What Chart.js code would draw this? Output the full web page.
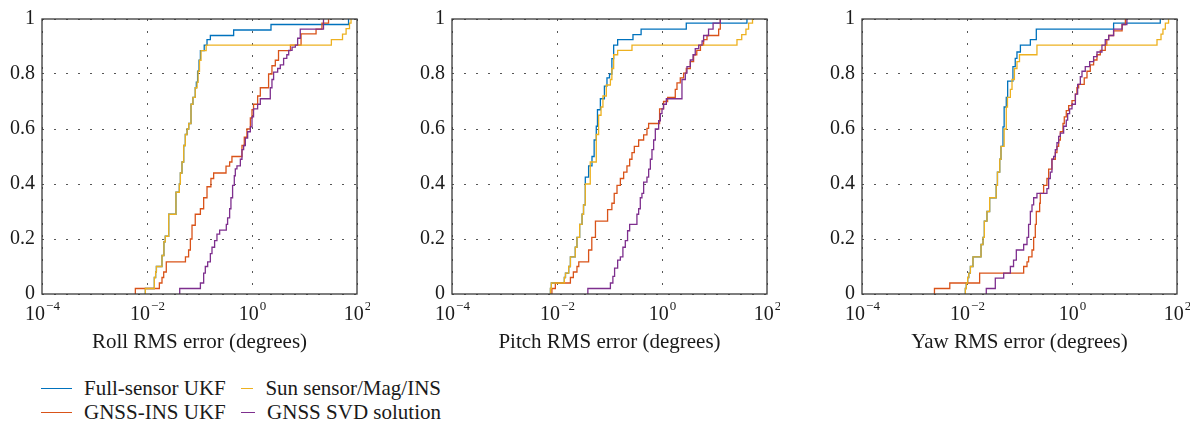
<!DOCTYPE html>
<html>
<head>
<meta charset="utf-8">
<script src="https://cdn.jsdelivr.net/npm/chart.js@4.4.1/dist/chart.umd.min.js"></script>
<style>
  body { margin: 0; background: #fff; width: 1201px; height: 424px; position: relative; overflow: hidden;
         font-family: "Liberation Serif", serif; color: #1a1a1a; }
  .panel { position: absolute; top: 0; width: 370px; height: 360px; }
  #legend { position: absolute; left: 41px; top: 376px; display: grid;
            grid-template-rows: 24px 24px; grid-auto-flow: column; grid-auto-columns: 200px; font-size: 21px; }
  .item { display: flex; align-items: center; white-space: nowrap; }
  .swatch { width: 31px; height: 0; border-top: 1.5px solid; margin-right: 12px; }
</style>
</head>
<body>
<div class="panel" style="left:0px"><canvas id="roll" width="370" height="360"></canvas></div>
<div class="panel" style="left:410px"><canvas id="pitch" width="370" height="360"></canvas></div>
<div class="panel" style="left:820px"><canvas id="yaw" width="370" height="360"></canvas></div>
<div id="legend"></div>

<script>
// Series (legend order, column-major like the figure)
const seriesNames = ['Full-sensor UKF', 'GNSS-INS UKF', 'Sun sensor/Mag/INS', 'GNSS SVD solution'];
const seriesColors = ['#0072BD', '#D95319', '#EDB120', '#7E2F8E'];
const drawOrder = [4, 3, 2, 1];

// axis ticks
const xTickValues = [1e-4, 1e-2, 1, 1e2];
const xTickExponents = ['\u22124', '\u22122', '0', '2'];
const yTickValues = [0, 0.2, 0.4, 0.6, 0.8, 1];
const yTickLabels = ['0', '0.2', '0.4', '0.6', '0.8', '1'];
const panelTitles = ['Roll RMS error (degrees)', 'Pitch RMS error (degrees)', 'Yaw RMS error (degrees)'];

// empirical CDF steps: [error (deg), cumulative fraction]
const rollFull = [[0.0093,0.02],[0.0138,0.06],[0.0146,0.08],[0.0151,0.10],[0.0193,0.14],[0.021,0.19],[0.0223,0.21],[0.0259,0.29],[0.0356,0.37],[0.0413,0.40],[0.0432,0.44],[0.0464,0.48],[0.05,0.54],[0.0537,0.58],[0.058,0.60],[0.0624,0.62],[0.0689,0.69],[0.075,0.715],[0.083,0.75],[0.087,0.77],[0.092,0.81],[0.098,0.85],[0.104,0.885],[0.123,0.905],[0.139,0.925],[0.161,0.94],[0.447,0.96],[2.3,0.98],[69,1.0]];
const rollGnss = [[0.006,0.02],[0.0172,0.04],[0.0193,0.06],[0.0208,0.08],[0.0233,0.117],[0.054,0.135],[0.062,0.16],[0.067,0.20],[0.072,0.25],[0.083,0.29],[0.104,0.31],[0.12,0.35],[0.139,0.39],[0.165,0.42],[0.186,0.44],[0.32,0.465],[0.375,0.48],[0.415,0.50],[0.644,0.54],[0.713,0.57],[0.80,0.60],[0.93,0.64],[1.0,0.67],[1.07,0.69],[1.28,0.72],[1.44,0.75],[2.07,0.80],[2.4,0.83],[2.78,0.85],[3.2,0.885],[5.4,0.905],[8.6,0.946],[16.6,0.963],[21.5,0.985],[28.7,1.0]];
const rollSun = [[0.0093,0.02],[0.0138,0.06],[0.0146,0.08],[0.0151,0.10],[0.0193,0.14],[0.021,0.19],[0.0223,0.21],[0.0259,0.29],[0.0356,0.37],[0.0413,0.40],[0.0432,0.44],[0.0464,0.48],[0.05,0.54],[0.0537,0.58],[0.058,0.60],[0.0624,0.62],[0.0689,0.69],[0.075,0.715],[0.083,0.75],[0.09,0.77],[0.094,0.81],[0.1,0.85],[0.107,0.885],[0.134,0.905],[32.5,0.925],[53,0.945],[62,0.965],[72,0.985],[77,1.0]];
const rollSvd = [[0.042,0.02],[0.104,0.04],[0.12,0.076],[0.129,0.10],[0.143,0.117],[0.161,0.147],[0.173,0.17],[0.194,0.194],[0.215,0.218],[0.242,0.232],[0.324,0.253],[0.343,0.277],[0.375,0.31],[0.397,0.35],[0.427,0.395],[0.46,0.43],[0.481,0.455],[0.517,0.466],[0.60,0.49],[0.644,0.525],[0.693,0.54],[0.746,0.567],[0.826,0.59],[0.929,0.608],[1.0,0.644],[1.07,0.673],[1.28,0.69],[1.44,0.71],[2.23,0.75],[2.40,0.78],[2.58,0.807],[3.08,0.82],[3.46,0.833],[4.0,0.857],[4.6,0.87],[5.0,0.886],[5.8,0.898],[6.7,0.905],[7.4,0.93],[8.3,0.963],[23,1.0]];

const pitchFull = [[0.0075,0.02],[0.0078,0.04],[0.0138,0.06],[0.0145,0.076],[0.0167,0.10],[0.018,0.135],[0.0223,0.17],[0.024,0.206],[0.027,0.253],[0.030,0.29],[0.032,0.324],[0.0346,0.425],[0.040,0.466],[0.0464,0.50],[0.051,0.56],[0.056,0.61],[0.059,0.67],[0.067,0.71],[0.080,0.756],[0.0895,0.786],[0.1,0.80],[0.111,0.856],[0.12,0.905],[0.143,0.925],[0.28,0.943],[0.40,0.963],[2.9,0.985],[41.5,1.0]];
const pitchGnss = [[0.008,0.02],[0.0093,0.04],[0.018,0.06],[0.0205,0.08],[0.024,0.10],[0.026,0.117],[0.040,0.16],[0.046,0.206],[0.054,0.265],[0.092,0.307],[0.111,0.33],[0.123,0.366],[0.139,0.395],[0.161,0.42],[0.186,0.443],[0.215,0.466],[0.242,0.49],[0.268,0.514],[0.297,0.537],[0.359,0.56],[0.447,0.579],[0.517,0.602],[0.556,0.62],[0.90,0.673],[1.07,0.70],[1.28,0.715],[1.79,0.744],[1.93,0.768],[2.23,0.786],[2.58,0.803],[2.90,0.82],[3.46,0.845],[4.0,0.87],[4.6,0.886],[5.4,0.905],[6.2,0.925],[7.2,0.94],[12,0.963],[12.9,1.0]];
const pitchSun = [[0.0075,0.02],[0.0078,0.04],[0.0138,0.06],[0.0145,0.076],[0.0167,0.10],[0.018,0.135],[0.0223,0.17],[0.024,0.206],[0.027,0.253],[0.030,0.29],[0.032,0.324],[0.0346,0.40],[0.043,0.48],[0.056,0.58],[0.062,0.65],[0.069,0.68],[0.075,0.72],[0.087,0.76],[0.104,0.78],[0.111,0.82],[0.12,0.87],[0.143,0.886],[0.268,0.905],[26.8,0.925],[33,0.943],[39.7,0.963],[44.6,0.985],[53,1.0]];
const pitchSvd = [[0.0387,0.02],[0.104,0.04],[0.116,0.064],[0.125,0.094],[0.143,0.123],[0.161,0.135],[0.18,0.17],[0.20,0.194],[0.221,0.23],[0.242,0.253],[0.333,0.29],[0.359,0.31],[0.386,0.35],[0.415,0.366],[0.447,0.407],[0.517,0.425],[0.557,0.454],[0.60,0.49],[0.644,0.525],[0.693,0.56],[0.746,0.60],[0.863,0.63],[0.929,0.656],[1.0,0.673],[1.07,0.69],[1.21,0.71],[2.40,0.78],[2.78,0.803],[2.99,0.827],[3.46,0.851],[3.9,0.87],[4.3,0.892],[5.0,0.905],[5.8,0.92],[6.2,0.94],[7.7,0.963],[9.4,0.985],[12.9,1.0]];

const yawFull = [[0.0093,0.02],[0.0097,0.04],[0.0103,0.06],[0.0108,0.076],[0.0116,0.10],[0.013,0.135],[0.0185,0.18],[0.0202,0.206],[0.0214,0.265],[0.024,0.30],[0.027,0.35],[0.036,0.395],[0.038,0.443],[0.042,0.49],[0.0444,0.537],[0.0485,0.608],[0.051,0.68],[0.056,0.715],[0.0595,0.774],[0.075,0.827],[0.083,0.857],[0.0895,0.88],[0.104,0.905],[0.161,0.925],[0.209,0.963],[6.2,0.985],[48,1.0]];
const yawGnss = [[0.0024,0.02],[0.0047,0.04],[0.0174,0.076],[0.12,0.10],[0.139,0.117],[0.149,0.135],[0.173,0.16],[0.186,0.206],[0.20,0.253],[0.209,0.30],[0.242,0.33],[0.249,0.366],[0.288,0.395],[0.333,0.42],[0.359,0.454],[0.415,0.49],[0.481,0.514],[0.517,0.537],[0.557,0.56],[0.60,0.59],[0.673,0.62],[0.713,0.644],[0.778,0.667],[0.863,0.685],[1.0,0.703],[1.16,0.727],[1.24,0.75],[1.34,0.762],[1.71,0.786],[1.93,0.81],[2.23,0.833],[2.58,0.851],[2.99,0.87],[3.46,0.886],[4.3,0.905],[4.6,0.925],[5.0,0.94],[6.2,0.957],[9.0,0.98],[10.4,1.0]];
const yawSun = [[0.0093,0.02],[0.0097,0.04],[0.0103,0.06],[0.0108,0.076],[0.0116,0.10],[0.013,0.135],[0.0185,0.18],[0.0202,0.206],[0.0214,0.265],[0.024,0.30],[0.027,0.35],[0.036,0.395],[0.038,0.443],[0.042,0.49],[0.0444,0.537],[0.051,0.60],[0.056,0.68],[0.059,0.715],[0.067,0.744],[0.072,0.78],[0.080,0.82],[0.0895,0.845],[0.10,0.87],[0.215,0.905],[41.6,0.925],[49.6,0.945],[54,0.963],[60,0.985],[69,1.0]];
const yawSvd = [[0.0233,0.02],[0.0346,0.058],[0.050,0.076],[0.067,0.10],[0.077,0.123],[0.087,0.16],[0.12,0.18],[0.139,0.206],[0.149,0.253],[0.161,0.30],[0.173,0.324],[0.186,0.35],[0.215,0.366],[0.333,0.383],[0.359,0.42],[0.386,0.443],[0.415,0.49],[0.447,0.50],[0.481,0.525],[0.517,0.55],[0.557,0.573],[0.60,0.585],[0.693,0.61],[0.778,0.632],[0.826,0.656],[0.90,0.673],[1.0,0.69],[1.16,0.727],[1.28,0.762],[1.44,0.79],[1.55,0.81],[1.79,0.827],[2.17,0.845],[2.58,0.863],[2.99,0.88],[3.72,0.905],[4.3,0.925],[5.0,0.94],[6.2,0.963],[9.0,0.98],[11.1,1.0]];

const fontFamily = '"Liberation Serif", "Times New Roman", serif';
const textColor = '#1a1a1a';
const gridColor = 'rgba(30,30,30,0.75)';

// box around the axes + 10^n tick labels with real superscripts
const axesDecor = {
    id: 'axesDecor',
    afterDatasetsDraw(chart) {
        const {ctx, chartArea: a} = chart;
        ctx.save();
        ctx.strokeStyle = '#3a3a3a';
        ctx.lineWidth = 1.3;
        ctx.strokeRect(a.left, a.top, a.right - a.left, a.bottom - a.top);
        ctx.restore();
    },
    afterDraw(chart) {
        const {ctx, chartArea: a} = chart;
        const xs = chart.scales.x;
        ctx.save();
        ctx.fillStyle = textColor;
        ctx.textBaseline = 'alphabetic';
        ctx.textAlign = 'left';
        xTickValues.forEach((v, i) => {
            const px = xs.getPixelForValue(v);
            ctx.font = '20px ' + fontFamily;
            const wb = ctx.measureText('10').width;
            ctx.font = '13px ' + fontFamily;
            const we = ctx.measureText(xTickExponents[i]).width;
            const x0 = px - (wb + we) / 2;
            ctx.font = '20px ' + fontFamily;
            ctx.fillText('10', x0, a.bottom + 26);
            ctx.font = '13px ' + fontFamily;
            ctx.fillText(xTickExponents[i], x0 + wb + 1, a.bottom + 16);
        });
        ctx.restore();
    }
};

function makePanel(id, title, series) {
    new Chart(document.getElementById(id), {
        type: 'line',
        data: {
            datasets: series.map((pts, i) => ({
                label: seriesNames[i],
                data: [{x: pts[0][0], y: 0}].concat(pts.map(p => ({x: p[0], y: p[1]}))),
                borderColor: seriesColors[i],
                borderWidth: 1.3,
                pointRadius: 0,
                stepped: 'before',
                fill: false,
                order: drawOrder[i]
            }))
        },
        options: {
            responsive: false,
            animation: false,
            events: [],
            layout: {padding: {top: 13, right: 13, left: 0, bottom: 0}},
            plugins: {legend: {display: false}, tooltip: {enabled: false}},
            scales: {
                x: {
                    type: 'logarithmic',
                    min: 1e-4,
                    max: 1e2,
                    afterBuildTicks: (s) => { s.ticks = xTickValues.map(v => ({value: v})); },
                    afterFit: (s) => { s.height = 66; },
                    ticks: {display: false},
                    grid: {color: gridColor, lineWidth: 1, drawTicks: false},
                    border: {display: false, dash: [2, 10]},
                    title: {
                        display: true, text: title, color: textColor,
                        font: {family: fontFamily, size: 21},
                        padding: {top: 0, bottom: 5}
                    }
                },
                y: {
                    min: 0,
                    max: 1,
                    afterBuildTicks: (s) => { s.ticks = yTickValues.map(v => ({value: v})); },
                    afterFit: (s) => { s.width = 42; },
                    ticks: {
                        color: textColor, padding: 7, font: {family: fontFamily, size: 20},
                        callback: (v, i) => yTickLabels[i]
                    },
                    grid: {color: gridColor, lineWidth: 1, drawTicks: false},
                    border: {display: false, dash: [2, 10]}
                }
            }
        },
        plugins: [axesDecor]
    });
}

makePanel('roll', panelTitles[0], [rollFull, rollGnss, rollSun, rollSvd]);
makePanel('pitch', panelTitles[1], [pitchFull, pitchGnss, pitchSun, pitchSvd]);
makePanel('yaw', panelTitles[2], [yawFull, yawGnss, yawSun, yawSvd]);

// legend under the panels
const legend = document.getElementById('legend');
seriesNames.forEach((name, i) => {
    const item = document.createElement('div');
    item.className = 'item';
    const sw = document.createElement('span');
    sw.className = 'swatch';
    sw.style.borderColor = seriesColors[i];
    item.appendChild(sw);
    item.appendChild(document.createTextNode(name));
    legend.appendChild(item);
});
</script>
</body>
</html>
